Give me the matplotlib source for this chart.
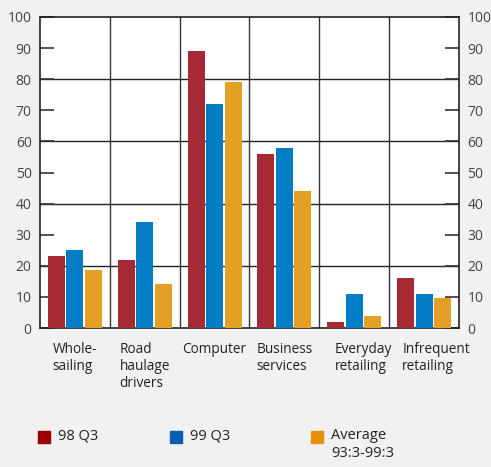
import matplotlib
matplotlib.use("Agg")
import matplotlib.pyplot as plt
from matplotlib.patches import Rectangle
import numpy as np

categories = ["Whole-\nsailing", "Road\nhaulage\ndrivers", "Computer",
              "Business\nservices", "Everyday\nretailing", "Infrequent\nretailing"]
series_names = ["98 Q3", "99 Q3", "Average\n93:3-99:3"]
q98 = [23, 22, 89, 56, 2, 16]
q99 = [25, 34, 72, 58, 11, 11]
avg = [18.5, 14, 79, 44, 4, 9.5]
yticks = list(range(0, 101, 10))

bar_colors = ["#a62a33", "#007dc4", "#e3a024"]
legend_colors = ["#9b0000", "#0a5fae", "#e8900a"]
bg = "#f1f1f1"
text_col = "#444444"

plt.rcParams["font.family"] = ["Open Sans", "DejaVu Sans"]

fig = plt.figure(figsize=(4.91, 4.67), dpi=100, facecolor=bg)
ax = fig.add_axes([40 / 491, 1 - 328 / 467, 419 / 491, 311 / 467])
ax.set_facecolor("white")

x = np.arange(len(categories))
width = 0.245
offset = 0.265
for i, (vals, col) in enumerate(zip([q98, q99, avg], bar_colors)):
    ax.bar(x + (i - 1) * offset, vals, width=width, color=col, zorder=3)

ax.set_xlim(-0.5, len(categories) - 0.5)
ax.set_ylim(0, 100)

# grid: horizontal lines every 20, vertical separators between categories
for y in range(20, 100, 20):
    ax.axhline(y, color="#222222", lw=1.0, zorder=1)
for b in np.arange(0.5, len(categories) - 0.5, 1):
    ax.axvline(b, color="#333333", lw=1.0, zorder=1)

for s in ax.spines.values():
    s.set_color("#222222")
    s.set_linewidth(1.2)

ax.set_yticks(yticks)
ax.set_yticklabels([str(t) for t in yticks])
ax.tick_params(axis="y", direction="in", length=10, width=1.2, color="#333333",
               left=True, right=True, labelleft=True, labelright=True,
               labelsize=10, labelcolor=text_col, pad=6)
ax.set_xticks([])

label_shift = [0, 0, 0, 0, 0.13, 0.17]
for xi, lab, sh in zip(x, categories, label_shift):
    ax.text(xi + sh, -4.5, lab, ha="center", va="top", multialignment="left",
            fontsize=9.8, color="#222222", linespacing=1.2,
            transform=ax.transData, clip_on=False)

# legend
leg_x = [38, 170, 311]
for lx, name, col in zip(leg_x, series_names, legend_colors):
    fig.add_artist(Rectangle((lx / 491, 1 - 443 / 467), 12 / 491, 12 / 467,
                             transform=fig.transFigure, color=col))
    fig.text((lx + 20) / 491, 1 - 428 / 467, name, ha="left", va="top",
             fontsize=10.5, color="#222222", linespacing=1.25)

fig.savefig("out.png", dpi=100, facecolor=bg)
